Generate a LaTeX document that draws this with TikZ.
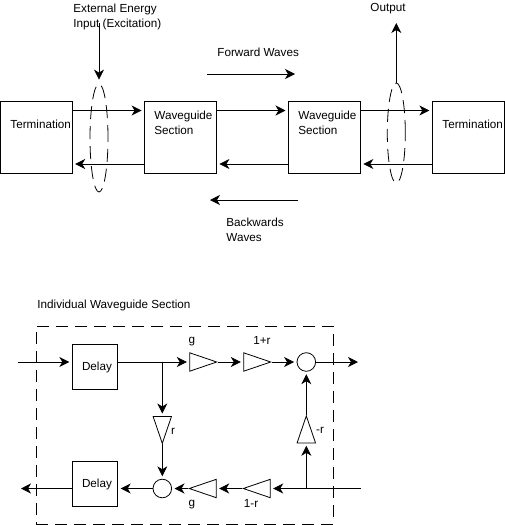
\documentclass[tikz,border=0pt]{standalone}
\usepackage{fontspec}
\setmainfont{Liberation Sans}
\usetikzlibrary{arrows.meta,shapes.geometric}

\begin{document}
\begin{tikzpicture}[
        x=1pt, y=-1pt,
        line width=0.8pt,
        blockbox/.style={
            draw,
            rectangle,
            minimum width=72pt,
            minimum height=72pt
        },
        delaybox/.style={
            draw,
            rectangle,
            minimum width=45.5pt,
            minimum height=45pt
        },
        caption/.style={
            anchor=west,
            inner sep=0pt,
            font=\fontsize{11.7}{13}\selectfont
        },
        tag/.style={
            inner sep=0pt,
            font=\fontsize{11.7}{13}\selectfont
        },
        probe/.style={
            draw,
            dashed,
            dash pattern=on 13pt off 7pt,
            ellipse,
            inner sep=0pt,
            minimum width=18pt
        },
        junction/.style={
            draw,
            circle,
            inner sep=0pt,
            minimum size=18.6pt
        },
        gain/.style={
            draw,
            isosceles triangle,
            isosceles triangle stretches,
            inner sep=0pt,
            minimum width=18.4pt,
            minimum height=27pt
        },
        arrow/.style={
            -{Stealth[length=10pt,width=10pt,inset=3pt]}
        },
        gapped/.style={
            arrow,
            shorten >=2.5pt
        }
    ]
    \useasboundingbox (0,0) rectangle (505,525);

    % top row
    \node[blockbox] (termleft) at (36.3,137) {};
    \node[blockbox] (guideone) at (180.5,137) {};
    \node[blockbox] (guidetwo) at (324.4,137) {};
    \node[blockbox] (termright) at (468.3,137) {};
    \node[caption] (termlefttext) at (10,124) {Termination};
    \node[caption, align=left] (guideonetext) at (154,122.5) {Waveguide\\[2pt]Section};
    \node[caption, align=left] (guidetwotext) at (298,122.5) {Waveguide\\[2pt]Section};
    \node[caption] (termrighttext) at (442,124) {Termination};

    \coordinate (forwardrow) at (0,110.5);
    \coordinate (backwardrow) at (0,164);

    \draw[gapped] (termleft.east |- forwardrow) -- (guideone.west |- forwardrow);
    \draw[gapped] (guideone.east |- forwardrow) -- (guidetwo.west |- forwardrow);
    \draw[gapped] (guidetwo.east |- forwardrow) -- (termright.west |- forwardrow);
    \draw[gapped] (guideone.west |- backwardrow) -- (termleft.east |- backwardrow);
    \draw[gapped] (guidetwo.west |- backwardrow) -- (guideone.east |- backwardrow);
    \draw[gapped] (termright.west |- backwardrow) -- (guidetwo.east |- backwardrow);

    % excitation and output
    \node[probe, minimum height=108pt] (inputprobe) at (99,138) {};
    \node[probe, minimum height=100pt] (outputprobe) at (396.3,133) {};
    \node[caption, align=left] (inputtext) at (73,16.5) {External Energy\\[2pt]Input (Excitation)};
    \node[caption] (outputtext) at (370,8.5) {Output};
    \coordinate (inputstart) at (99,23);
    \coordinate (outputend) at (396.3,23);
    \draw[arrow, shorten >=4pt] (inputstart) -- (inputprobe.north);
    \draw[arrow] (outputprobe.north) -- (outputend);

    % wave directions
    \node[caption] (forwardtext) at (217,52) {Forward Waves};
    \node[caption, align=left] (backwardtext) at (226,230) {Backwards\\[2pt]Waves};
    \coordinate (forwardstart) at (207,74);
    \coordinate (forwardend) at (295,74);
    \coordinate (backwardstart) at (298,200);
    \coordinate (backwardend) at (210,200);
    \draw[arrow] (forwardstart) -- (forwardend);
    \draw[arrow] (backwardstart) -- (backwardend);

    % individual section
    \node[caption] (sectiontext) at (37,305) {Individual Waveguide Section};
    \node[draw, dashed, dash pattern=on 12pt off 7pt, rectangle, minimum width=297pt, minimum height=198pt] (sectionframe) at (184.8,425) {};

    \node[delaybox] (delaytop) at (95,367) {};
    \node[delaybox] (delaybottom) at (95,484) {};
    \node[tag] (delaytoptext) at (97,367) {Delay};
    \node[tag] (delaybottomtext) at (97,484) {Delay};

    \coordinate (toprow) at (0,362);
    \coordinate (bottomrow) at (0,488.5);

    \node[gain, anchor=lower side] (gaintop) at (189.3,362) {};
    \node[gain, anchor=lower side] (sumgain) at (243.3,362) {};
    \node[gain, anchor=lower side, shape border rotate=180] (gainbottom) at (216.7,488.5) {};
    \node[gain, anchor=lower side, shape border rotate=180] (diffgain) at (270.7,488.5) {};
    \node[gain, anchor=lower side, shape border rotate=270] (reflectdown) at (162.3,416) {};
    \node[gain, anchor=lower side, shape border rotate=90] (reflectup) at (306.3,443.3) {};

    \node[junction] (sumtop) at (306.3,362) {};
    \node[junction] (sumbottom) at (162.3,488.5) {};

    \node[tag] (gaintoptext) at (192,342) {g};
    \node[tag] (sumgaintext) at (262,340) {1+r};
    \node[tag] (reflectdowntext) at (173,431) {r};
    \node[tag] (reflectuptext) at (320,430) {-r};
    \node[tag] (gainbottomtext) at (192,504.5) {g};
    \node[tag] (diffgaintext) at (251,503) {1-r};

    \coordinate (sectionin) at (18,362);
    \coordinate (sectionout) at (358,362);
    \coordinate (returnin) at (361,488.5);
    \coordinate (returnout) at (21,488.5);

    \draw[gapped] (sectionin) -- (delaytop.west |- toprow);
    \draw[gapped] (delaytop.east |- toprow) -- (gaintop.lower side);
    \draw[gapped] (gaintop.apex) -- (sumgain.lower side);
    \draw[gapped] (sumgain.apex) -- (sumtop.west);
    \draw[arrow] (sumtop.east) -- (sectionout);

    \draw[gapped] (reflectdown.lower side |- toprow) -- (reflectdown.lower side);
    \draw[gapped] (reflectdown.apex) -- (sumbottom.north);

    \draw[gapped] (returnin) -- (diffgain.lower side);
    \draw[gapped] (diffgain.apex) -- (gainbottom.lower side);
    \draw[gapped] (gainbottom.apex) -- (sumbottom.east);
    \draw[gapped] (sumbottom.west) -- (delaybottom.east |- bottomrow);
    \draw[arrow] (delaybottom.west |- bottomrow) -- (returnout);

    \draw[gapped] (reflectup.lower side |- bottomrow) -- (reflectup.lower side);
    \draw[gapped] (reflectup.apex) -- (sumtop.south);

\end{tikzpicture}
\end{document}
